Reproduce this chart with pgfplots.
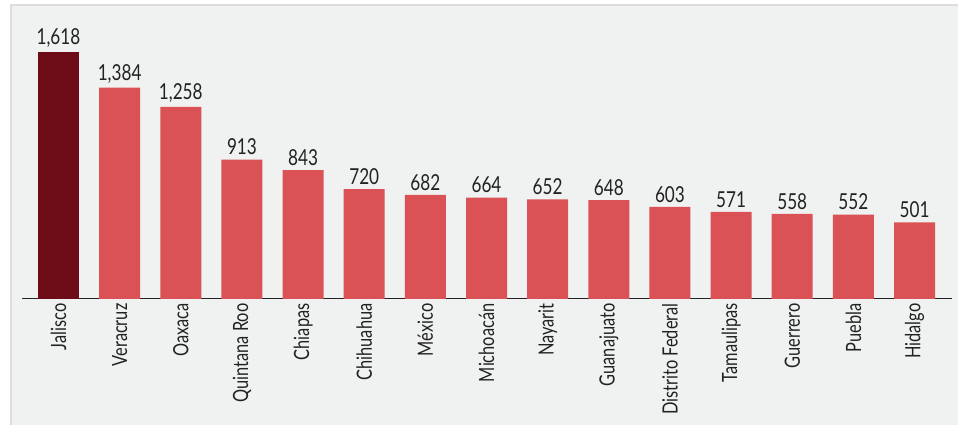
\documentclass[border=0pt]{standalone}
\usepackage{fontspec}
\setmainfont{Lato}[FakeStretch=0.78]
\usepackage{pgfplots}
\pgfplotsset{compat=1.18}
\definecolor{bg}{HTML}{F0F2F1}
\definecolor{frame}{HTML}{DCDDDD}
\definecolor{barred}{HTML}{DB5256}
\definecolor{bardark}{HTML}{6E0D17}
\definecolor{txt}{HTML}{222222}
\begin{document}
\begin{tikzpicture}[x=1pt,y=1pt]
\useasboundingbox (0,0) rectangle (958,425);
\fill[white] (0,0) rectangle (958,425);
\fill[bg] (11,0) rectangle (958,420);
\draw[frame, line width=2pt] (11,0) -- (11,420) -- (958,420);
\begin{axis}[
  at={(22pt,126pt)}, anchor=south west,
  scale only axis, width=930pt, height=294pt,
  xmin=-0.597, xmax=14.613, ymin=0, ymax=1925,
  axis x line=bottom, axis y line=none,
  axis line style={txt, line width=1pt, -},
  xtick={0,...,14}, major tick length=0pt,
  xticklabels={Jalisco,Veracruz,Oaxaca,Quintana Roo,Chiapas,Chihuahua,México,Michoacán,Nayarit,Guanajuato,Distrito Federal,Tamaulipas,Guerrero,Puebla,Hidalgo},
  x tick label style={rotate=90, anchor=east, font=\fontsize{21}{21}\selectfont, text=txt, xshift=-1pt},
  ytick=\empty,
  /pgf/number format/.cd, 1000 sep={,}, assume math mode=true,
]
\addplot[ybar, bar width=41pt, fill=bardark, draw=none,
  nodes near coords, every node near coord/.append style={font=\fontsize{22}{22}\selectfont, text=txt, anchor=south, yshift=1pt}]
  coordinates {(0,1618)};
\addplot[ybar, bar width=41pt, fill=barred, draw=none,
  nodes near coords, every node near coord/.append style={font=\fontsize{22}{22}\selectfont, text=txt, anchor=south, yshift=1pt}]
  coordinates {(1,1384) (2,1258) (3,913) (4,843) (5,720) (6,682) (7,664) (8,652) (9,648) (10,603) (11,571) (12,558) (13,552) (14,501)};
\end{axis}
\end{tikzpicture}
\end{document}
